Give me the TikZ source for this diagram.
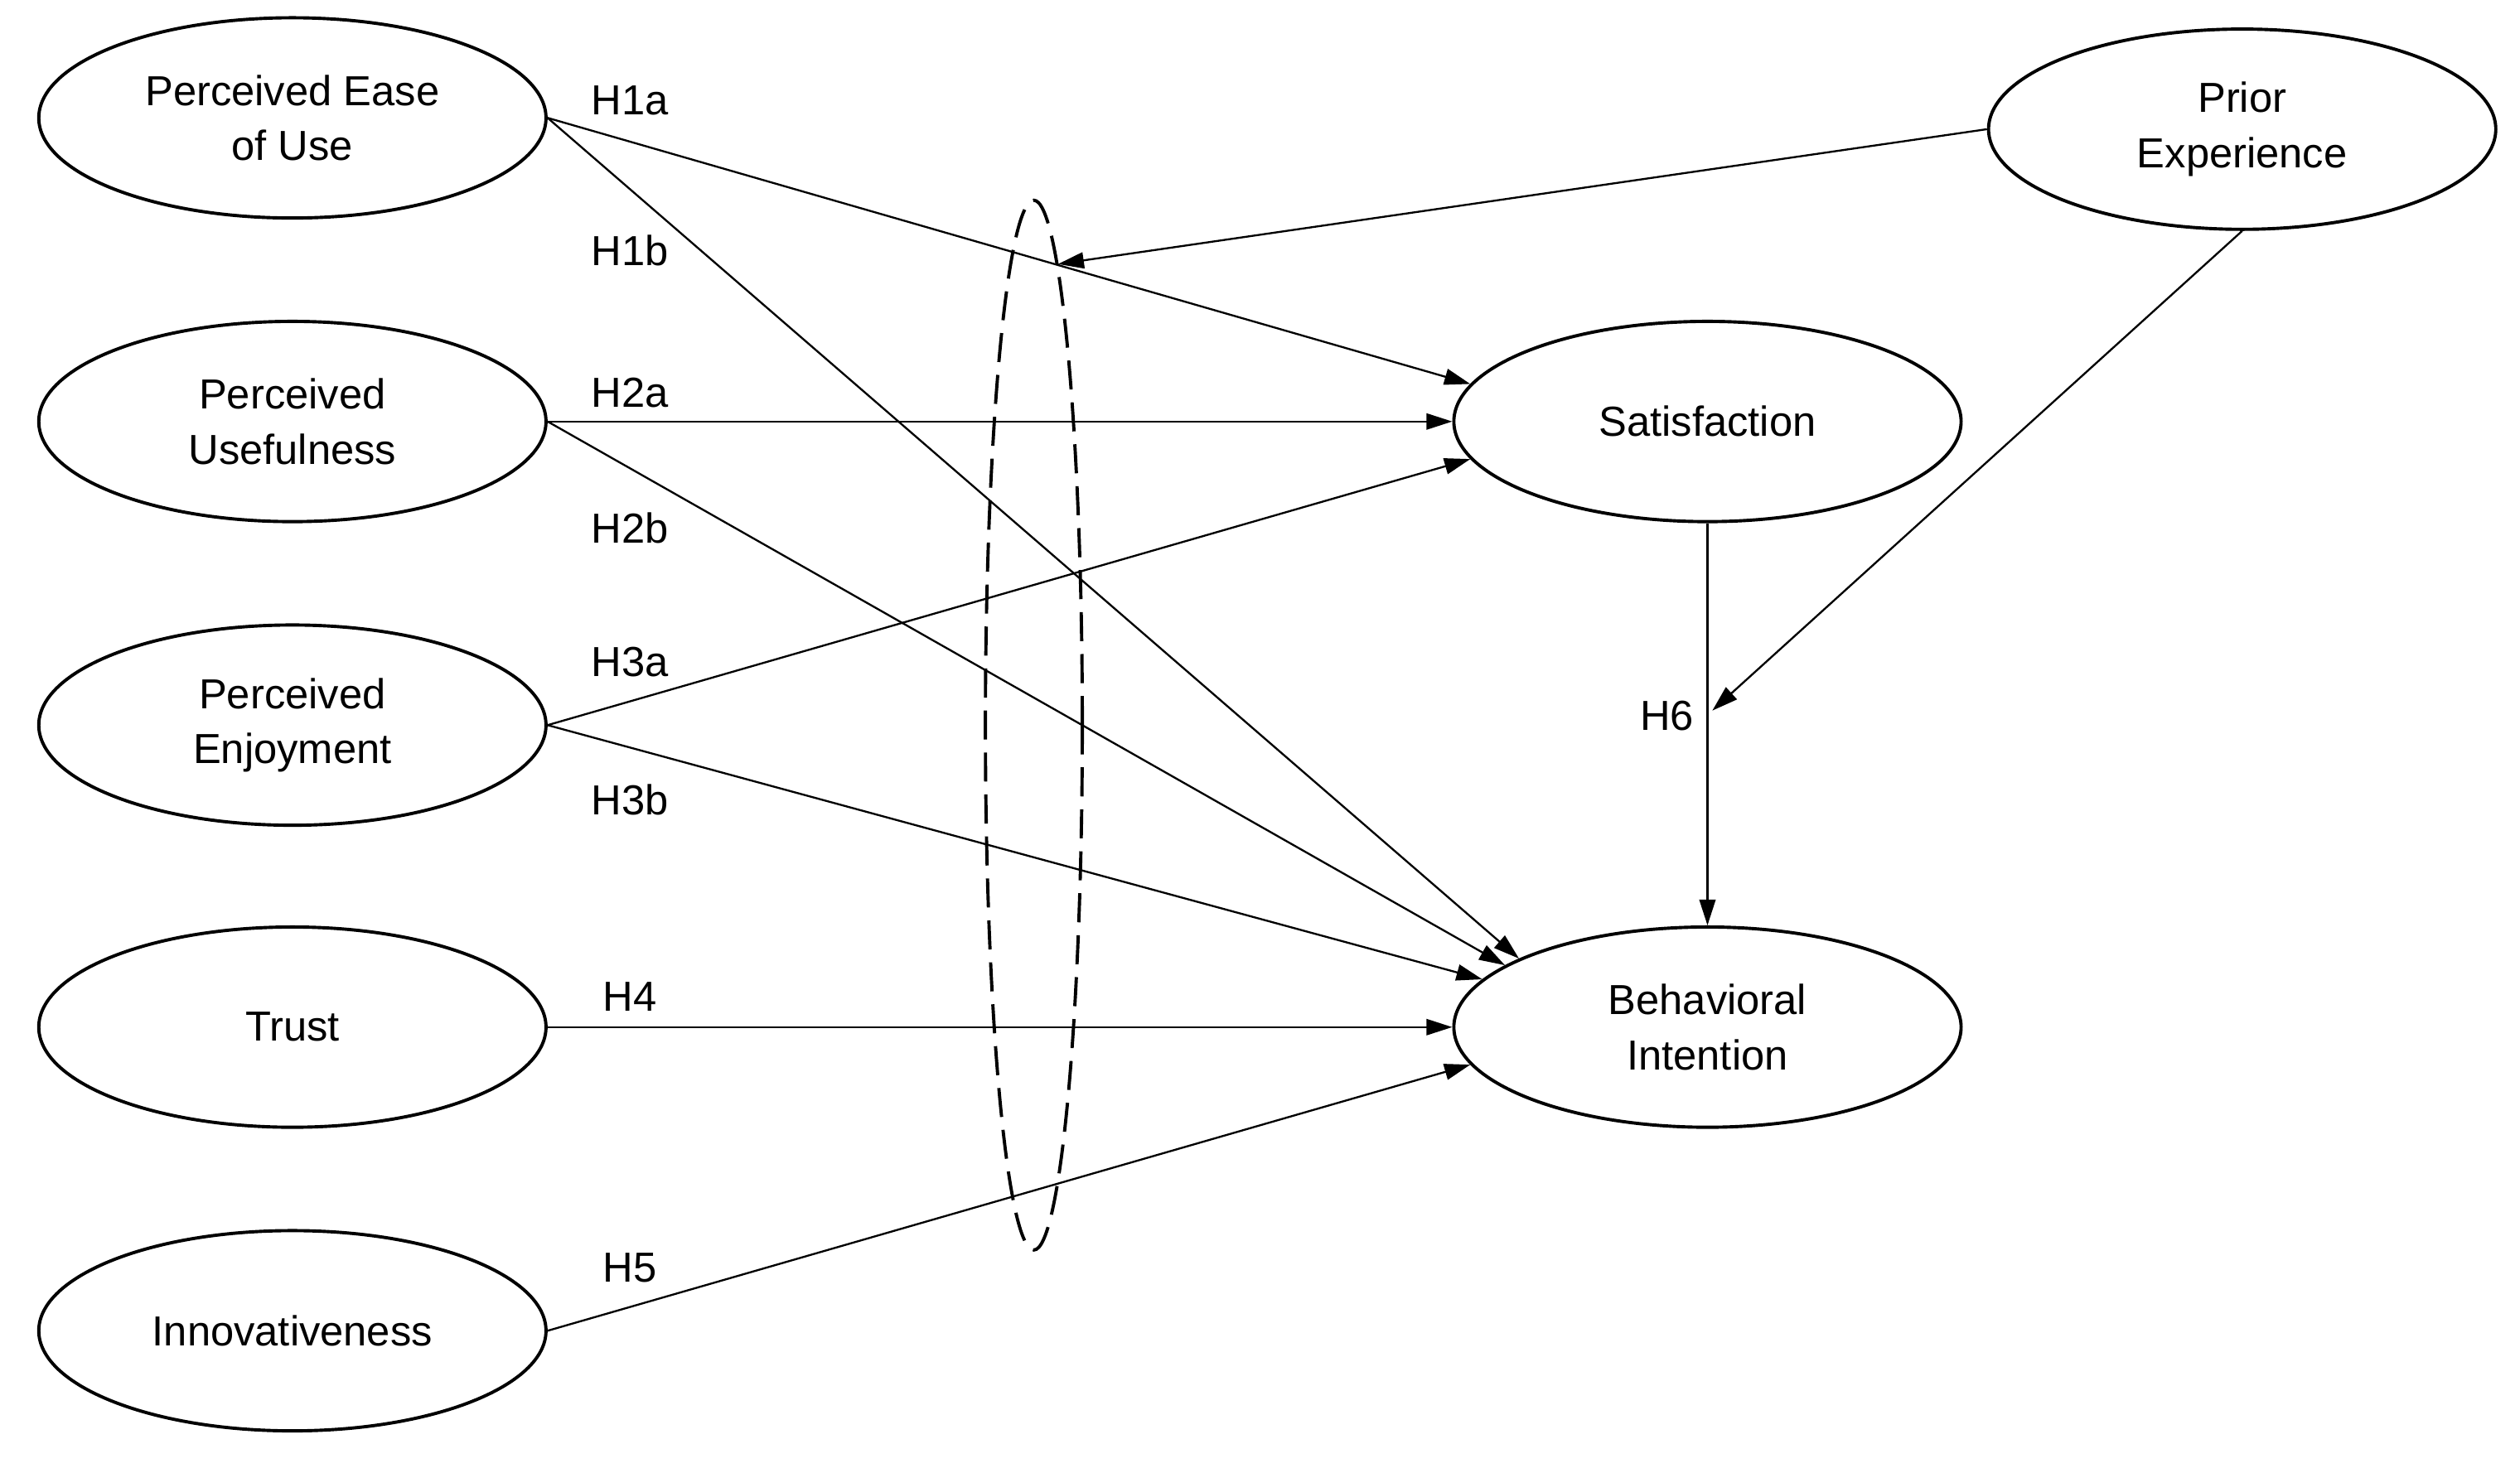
\documentclass[tikz,border=0pt]{standalone}
\usepackage{fontspec}
\setmainfont{Liberation Sans}
\usetikzlibrary{shapes.geometric,arrows.meta}
\begin{document}
\begin{tikzpicture}[x=1pt,y=-1pt,
  cons/.style={ellipse,draw,line width=2pt,minimum width=314pt,minimum height=124pt,align=center,font=\fontsize{26}{34}\selectfont,inner sep=0pt},
  arr/.style={line width=1.2pt,-{Triangle[length=16pt,width=10pt]}},
  lab/.style={font=\fontsize{26}{30}\selectfont}]
\useasboundingbox (0,0) rectangle (1560,912);
\node[cons] (peou) at (181,73) {Perceived Ease\\of Use};
\node[cons] (pu) at (181,261) {Perceived\\Usefulness};
\node[cons] (pe) at (181,449) {Perceived\\Enjoyment};
\node[cons] (tr) at (181,636) {Trust};
\node[cons] (inn) at (181,824) {Innovativeness};
\node[cons] (sat) at (1057,261) {Satisfaction};
\node[cons] (bi) at (1057,636) {Behavioral\\Intention};
\node[cons] (pr) at (1388,80) {Prior\\Experience};
\node[ellipse,draw,dashed,dash pattern=on 18pt off 8pt,line width=2pt,minimum width=60pt,minimum height=650pt,inner sep=0pt] (mod) at (640,449) {};
\coordinate (h6pt) at (1060,440);
\draw[arr] (peou.east) -- (sat.171);
\draw[arr] (peou.east) -- (bi.160);
\draw[arr] (pu.east) -- (sat.180);
\draw[arr] (pu.east) -- (bi.163);
\draw[arr] (pe.east) -- (sat.189);
\draw[arr] (pe.east) -- (bi.168);
\draw[arr] (tr.east) -- (bi.180);
\draw[arr] (inn.east) -- (bi.189);
\draw[arr] (pr.180) -- (mod.87);
\draw[arr] (pr.south) -- (h6pt);
\draw[arr] (sat.south) -- (bi.north);
\node[lab] at (390,62) {H1a};
\node[lab] at (390,155) {H1b};
\node[lab] at (390,243) {H2a};
\node[lab] at (390,327) {H2b};
\node[lab] at (390,410) {H3a};
\node[lab] at (390,495) {H3b};
\node[lab] at (390,617) {H4};
\node[lab] at (390,785) {H5};
\node[lab] at (1032,443) {H6};
\end{tikzpicture}
\end{document}
